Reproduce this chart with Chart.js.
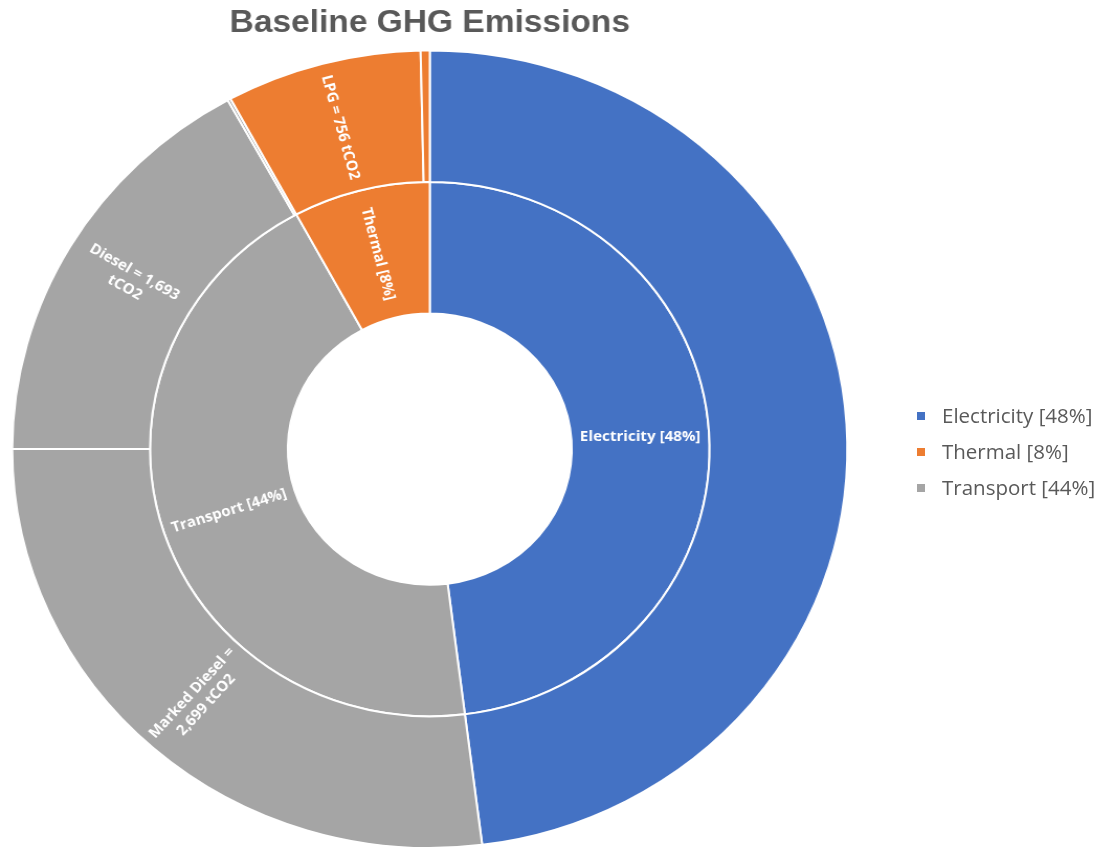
<!DOCTYPE html>
<html lang="en">
<head>
<meta charset="UTF-8">
<title>Baseline GHG Emissions</title>
<script src="https://cdn.jsdelivr.net/npm/chart.js"></script>
<style>
  body { margin: 0; background: #fff; }
  #wrap { position: relative; width: 1102px; height: 849px; overflow: hidden; }
  #box {
    position: absolute; left: 0; top: 0;
    width: 1102px; height: 849px;
    transform: scaleX(1.047); transform-origin: 0 0;
  }
  #legend {
    position: absolute; left: 917px; top: 399px;
    font-family: "Open Sans", sans-serif; font-size: 20.5px; color: #595959;
  }
  #legend div { height: 36px; line-height: 32px; white-space: nowrap; }
  #legend span {
    display: inline-block; width: 8px; height: 8px;
    margin-right: 17px; vertical-align: 3px;
  }
</style>
</head>
<body>
<div id="wrap">
  <div id="box"><canvas id="chart"></canvas></div>
  <div id="legend"></div>
</div>
<script>
// inner ring (clockwise from 12 o'clock)
const mainCategories = ['Electricity', 'Transport', 'Thermal'];
const mainShares = [48, 44, 8]; // % shown in labels
const mainColors = ['#4472C4', '#A5A5A5', '#ED7D31'];

// outer ring, tCO2
const subCategories = ['Electricity', 'Marked Diesel', 'Diesel', 'Other transport', 'LPG', 'Other thermal'];
const subParents = ['Electricity', 'Transport', 'Transport', 'Transport', 'Thermal', 'Thermal'];
const subValues = [4795, 2699, 1693, 12, 756, 35];
const subShowLabel = [false, true, true, false, true, false];

const legendCategories = ['Electricity', 'Thermal', 'Transport'];

const colorOf = name => mainColors[mainCategories.indexOf(name)];
const mainValues = mainCategories.map(c =>
  subValues.reduce((s, v, i) => s + (subParents[i] === c ? v : 0), 0));
const mainText = mainCategories.map((c, i) => c + ' [' + mainShares[i] + '%]');
const subText = subCategories.map((c, i) =>
  subShowLabel[i] ? c + ' = ' + subValues[i].toLocaleString('en-US') + ' tCO2' : '');

// legend
const legend = document.getElementById('legend');
legendCategories.forEach(c => {
  const i = mainCategories.indexOf(c);
  const row = document.createElement('div');
  row.innerHTML = '<span style="background:' + mainColors[i] + '"></span>' + mainText[i];
  legend.appendChild(row);
});

function wrapText(ctx, text, maxW) {
  const words = text.split(' ');
  const lines = [];
  let line = '';
  words.forEach(w => {
    const test = line ? line + ' ' + w : w;
    if (line && ctx.measureText(test).width > maxW) {
      lines.push(line);
      line = w;
    } else {
      line = test;
    }
  });
  if (line) lines.push(line);
  return lines;
}

const ringLabels = {
  id: 'ringLabels',
  afterDatasetsDraw(chart) {
    const ctx = chart.ctx;
    ctx.save();
    ctx.fillStyle = '#ffffff';
    ctx.font = 'bold 14.5px "Open Sans"';
    ctx.textAlign = 'center';
    ctx.textBaseline = 'middle';
    chart.data.datasets.forEach((ds, di) => {
      const meta = chart.getDatasetMeta(di);
      meta.data.forEach((arc, i) => {
        const text = ds.labelText[i];
        if (!text) return;
        const p = arc.getProps(['x', 'y', 'startAngle', 'endAngle', 'innerRadius', 'outerRadius'], true);
        const a = (p.startAngle + p.endAngle) / 2;
        const r = (p.innerRadius + p.outerRadius) / 2;
        const x = p.x + Math.cos(a) * r;
        const y = p.y + Math.sin(a) * r;
        let rot = Math.cos(a) < 0 ? a + Math.PI : a;
        if (Math.abs(rot) < 0.1) rot = 0;
        const lines = di === 0 ? wrapText(ctx, text, p.outerRadius - p.innerRadius - 8) : [text];
        ctx.save();
        ctx.translate(x, y);
        ctx.rotate(rot);
        const lh = 18;
        lines.forEach((ln, k) => {
          ctx.fillText(ln, 0, (k - (lines.length - 1) / 2) * lh);
        });
        ctx.restore();
      });
    });
    ctx.restore();
  }
};

new Chart(document.getElementById('chart'), {
  type: 'doughnut',
  data: {
    labels: subCategories,
    datasets: [
      {
        data: subValues,
        backgroundColor: subParents.map(colorOf),
        borderColor: '#ffffff',
        borderWidth: 2,
        labelText: subText
      },
      {
        data: mainValues,
        backgroundColor: mainColors,
        borderColor: '#ffffff',
        borderWidth: 2,
        labelText: mainText
      }
    ]
  },
  options: {
    responsive: true,
    maintainAspectRatio: false,
    animation: false,
    cutout: '34%',
    layout: { padding: { left: 0, right: 281, top: 0, bottom: 0 } },
    plugins: {
      legend: { display: false },
      tooltip: { enabled: false },
      title: {
        display: true,
        text: 'Baseline GHG Emissions',
        color: '#595959',
        font: { family: '"Liberation Sans", Arial, sans-serif', size: 32, weight: 'bold', lineHeight: 1.2 },
        padding: { top: 4, bottom: 7 }
      }
    }
  },
  plugins: [ringLabels]
});
</script>
</body>
</html>
